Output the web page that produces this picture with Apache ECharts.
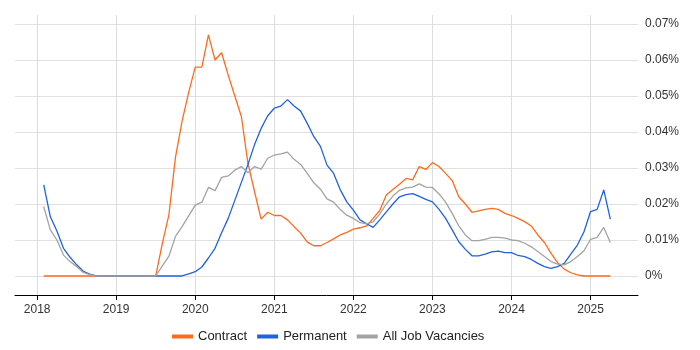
<!DOCTYPE html>
<html>
<head>
<meta charset="utf-8">
<script src="https://cdn.jsdelivr.net/npm/echarts@6/dist/echarts.min.js"></script>
<style>
  html, body { margin: 0; padding: 0; background: #fff; }
  #main { width: 700px; height: 350px; }
</style>
</head>
<body>
<div id="main"></div>
<script>
// monthly series, first point Feb 2018, last point Apr 2025
const startYear = 2018
const startMonth = 2
const yearTicks = [2018, 2019, 2020, 2021, 2022, 2023, 2024, 2025]
const pctTicks = [0, 0.01, 0.02, 0.03, 0.04, 0.05, 0.06, 0.07]

const contract = [
  0, 0, 0, 0, 0, 0, 0, 0, 0, 0, 0,
  0, 0, 0, 0, 0, 0, 0, 0.009, 0.017, 0.033, 0.043, 0.051,
  0.058, 0.058, 0.067, 0.060, 0.062, 0.0558, 0.050, 0.0443, 0.0313, 0.0234, 0.0158, 0.0177,
  0.0168, 0.0168, 0.0156, 0.0137, 0.0119, 0.0094, 0.0084, 0.0084, 0.0093, 0.0103, 0.0114, 0.0121,
  0.013, 0.0134, 0.0139, 0.016, 0.0182, 0.0225, 0.024, 0.0255, 0.0271, 0.0267, 0.0304, 0.0296,
  0.0315, 0.0304, 0.0285, 0.0265, 0.022, 0.020, 0.0177, 0.0181, 0.0185, 0.0188, 0.0185, 0.0174,
  0.0168, 0.016, 0.0151, 0.0139, 0.0114, 0.0093, 0.0063, 0.0037, 0.0019, 0.0009, 0.0003, 0,
  0, 0, 0, 0
]
const permanent = [
  0.0253, 0.0165, 0.0125, 0.0077, 0.0052, 0.0031, 0.0013, 0.0005, 0, 0, 0,
  0, 0, 0, 0, 0, 0, 0, 0, 0, 0, 0, 0.0006,
  0.0012, 0.0025, 0.005, 0.0077, 0.012, 0.016, 0.021, 0.026, 0.031, 0.0365, 0.041, 0.0445,
  0.0466, 0.0472, 0.049, 0.0472, 0.0458, 0.0424, 0.0387, 0.036, 0.0308, 0.0285, 0.024, 0.0206,
  0.0183, 0.0156, 0.0145, 0.0135, 0.0156, 0.0178, 0.020, 0.022, 0.0226, 0.0229, 0.0221, 0.0213,
  0.0206, 0.0185, 0.016, 0.0128, 0.0095, 0.0074, 0.0056, 0.0056, 0.0061, 0.0067, 0.0069, 0.0065,
  0.0065, 0.0057, 0.0054, 0.0046, 0.0035, 0.0026, 0.0021, 0.0026, 0.0035, 0.0061, 0.0086, 0.0123,
  0.0179, 0.0185, 0.0239, 0.0158
]
const allJobs = [
  0.0193, 0.0128, 0.010, 0.0058, 0.004, 0.0026, 0.001, 0.0004, 0, 0, 0,
  0, 0, 0, 0, 0, 0, 0, 0.0028, 0.0055, 0.011, 0.0137, 0.0167,
  0.0197, 0.0205, 0.0246, 0.0237, 0.0274, 0.0278, 0.0294, 0.0304, 0.0287, 0.0304, 0.0297, 0.0327,
  0.0336, 0.0339, 0.0344, 0.0324, 0.031, 0.0285, 0.0259, 0.0241, 0.0214, 0.0205, 0.0185, 0.0169,
  0.016, 0.0148, 0.0145, 0.015, 0.0172, 0.020, 0.0222, 0.0238, 0.0245, 0.0247, 0.0256, 0.0247,
  0.0246, 0.0228, 0.0205, 0.0174, 0.0139, 0.0114, 0.0098, 0.0098, 0.0102, 0.0107, 0.0107, 0.0105,
  0.010, 0.0098, 0.0091, 0.0081, 0.0068, 0.0054, 0.004, 0.0033, 0.0031, 0.004, 0.0054, 0.007,
  0.0102, 0.0107, 0.0135, 0.0093
]

// month index -> decimal year on the x axis
const toPoints = values => values.map((v, i) => {
  const m = startMonth - 1 + i
  return [startYear + m / 12, v]
})

const seriesDefs = [
  { name: 'Contract', data: contract, color: '#ff6a1c' },
  { name: 'Permanent', data: permanent, color: '#1f62e0' },
  { name: 'All Job Vacancies', data: allJobs, color: '#a3a3a3' }
]

const chart = echarts.init(document.getElementById('main'))
chart.setOption({
  animation: false,
  textStyle: { fontFamily: 'Liberation Sans, Arial, sans-serif' },
  grid: { left: 15, right: 62, top: 15, bottom: 55 },
  legend: {
    top: 325,
    left: 167,
    icon: 'rect',
    itemWidth: 21,
    itemHeight: 4,
    itemGap: 10,
    textStyle: { fontSize: 13, color: '#222' },
    data: seriesDefs.map(s => s.name)
  },
  xAxis: {
    type: 'value',
    min: 2017.72,
    max: 2025.6,
    axisLine: { onZero: false, lineStyle: { color: '#000', width: 1 } },
    axisTick: { show: true, customValues: yearTicks, length: 5, lineStyle: { color: '#000' } },
    axisLabel: { customValues: yearTicks, color: '#333', fontSize: 12, margin: 9, formatter: v => String(v) },
    splitLine: { show: true, lineStyle: { color: '#dcdcdc', width: 1 } }
  },
  yAxis: {
    type: 'value',
    position: 'right',
    min: -0.00528,
    max: 0.0725,
    axisLine: { show: false },
    axisTick: { show: false, customValues: pctTicks },
    axisLabel: {
      customValues: pctTicks,
      color: '#333',
      fontSize: 12,
      margin: 7,
      verticalAlign: 'middle',
      lineHeight: 16,
      padding: [5, 0, 0, 0],
      formatter: v => (v === 0 ? '0%' : v.toFixed(2) + '%')
    },
    splitLine: { show: true, lineStyle: { color: '#e0e0e0', width: 1 } }
  },
  series: seriesDefs.map(s => ({
    name: s.name,
    type: 'line',
    data: toPoints(s.data),
    showSymbol: false,
    symbol: 'none',
    lineStyle: { color: s.color, width: 1.3 },
    itemStyle: { color: s.color }
  }))
})
</script>
</body>
</html>
